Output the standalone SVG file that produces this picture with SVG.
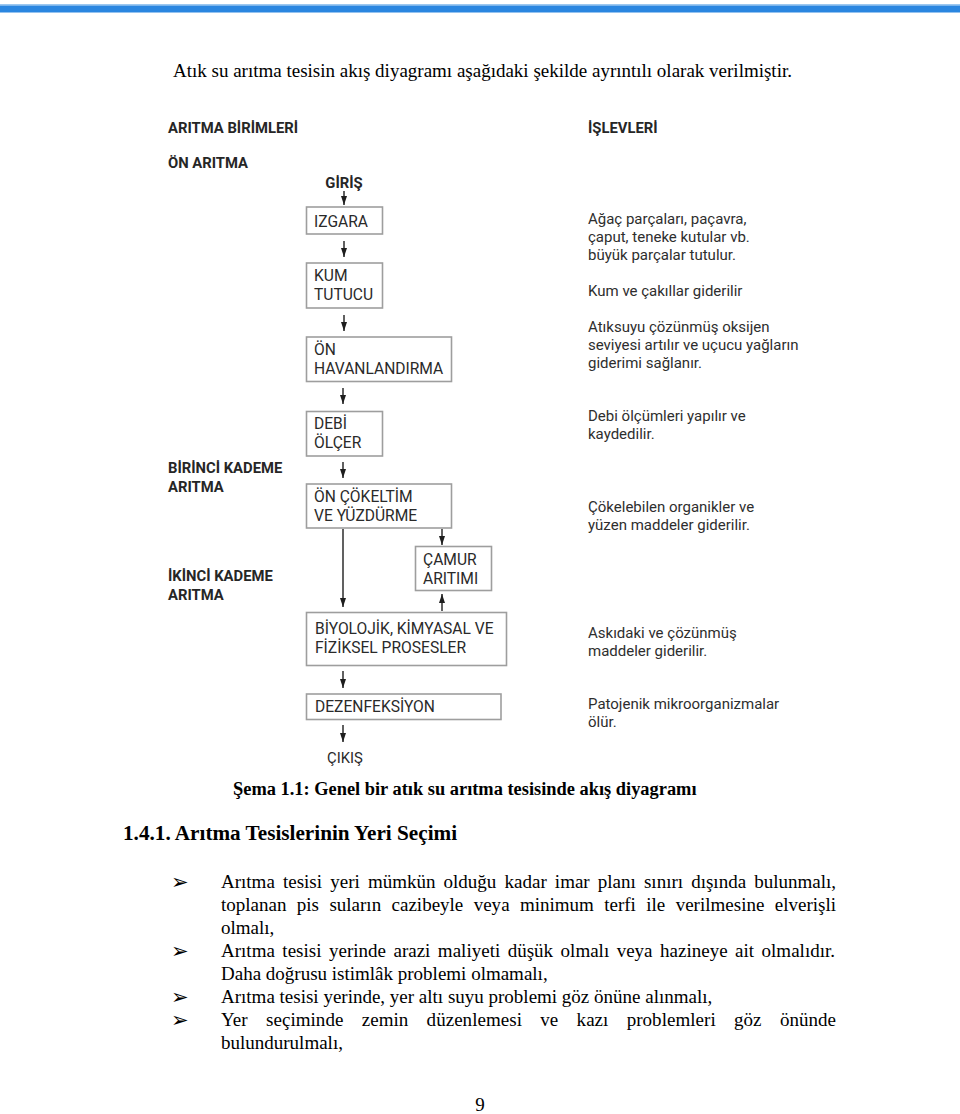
<svg xmlns="http://www.w3.org/2000/svg" width="960" height="1114" viewBox="0 0 960 1114">
<defs>
<style>
.page{font-family:"Liberation Serif","Times New Roman",serif;fill:#000}
.body{font-size:19px}
.hd{font-family:Roboto,"Liberation Sans",sans-serif;font-weight:bold;font-size:14.8px;fill:#262626}
.bx{fill:#fff;stroke:#9e9e9e;stroke-width:1.6}
.bt{font-family:Roboto,"Liberation Sans",sans-serif;font-size:15.6px;fill:#2a2a2a}
.fn{font-family:Roboto,"Liberation Sans",sans-serif;font-size:15px;fill:#2e2e2e}
.ar{stroke:#1e1e1e;stroke-width:1.4;fill:none;marker-end:url(#ah)}
.bul{font-family:"DejaVu Sans",sans-serif;font-size:21px;fill:#000}
</style>
<marker id="ah" viewBox="0 0 10 10" refX="10" refY="5" markerWidth="9" markerHeight="6" orient="auto" markerUnits="userSpaceOnUse" preserveAspectRatio="none">
<path d="M0,0 L10,5 L0,10 z" fill="#1e1e1e"/>
</marker>
</defs>
<rect x="0" y="0" width="960" height="1114" fill="#fff"/>
<rect x="0" y="4" width="960" height="1.5" fill="#9cc8f0"/>
<rect x="0" y="5.5" width="960" height="7" fill="#2a86e0"/>

<text class="page body" x="173" y="77">Atık su arıtma tesisin akış diyagramı aşağıdaki şekilde ayrıntılı olarak verilmiştir.</text>

<g id="headers">
<text class="hd" x="168" y="133">ARITMA BİRİMLERİ</text>
<text class="hd" x="168" y="168">ÖN ARITMA</text>
<text class="hd" x="588" y="133">İŞLEVLERİ</text>
<text class="hd" x="168" y="473">BİRİNCİ KADEME</text>
<text class="hd" x="168" y="492">ARITMA</text>
<text class="hd" x="168" y="581">İKİNCİ KADEME</text>
<text class="hd" x="168" y="600">ARITMA</text>
</g>

<g id="giris"><text class="hd" x="344" y="188" text-anchor="middle">GİRİŞ</text></g>
<g id="izgara"><rect class="bx" x="306.5" y="207" width="76" height="27"/><text class="bt" x="314" y="227">IZGARA</text></g>
<g id="kum"><rect class="bx" x="306.5" y="263" width="76" height="45"/><text class="bt" x="314" y="281">KUM</text><text class="bt" x="314" y="300">TUTUCU</text></g>
<g id="havalandirma"><rect class="bx" x="306.5" y="337" width="145" height="44.5"/><text class="bt" x="314" y="355">ÖN</text><text class="bt" x="314" y="374">HAVANLANDIRMA</text></g>
<g id="debi"><rect class="bx" x="306.5" y="411.5" width="76" height="44.5"/><text class="bt" x="314" y="429">DEBİ</text><text class="bt" x="314" y="448">ÖLÇER</text></g>
<g id="cokeltim"><rect class="bx" x="306.5" y="484" width="145" height="44"/><text class="bt" x="314" y="502">ÖN ÇÖKELTİM</text><text class="bt" x="314" y="521">VE YÜZDÜRME</text></g>
<g id="camur"><rect class="bx" x="415.5" y="546.5" width="76" height="44"/><text class="bt" x="423" y="565">ÇAMUR</text><text class="bt" x="423" y="584">ARITIMI</text></g>
<g id="biyolojik"><rect class="bx" x="306.5" y="612.5" width="200" height="53"/><text class="bt" x="315" y="634">BİYOLOJİK, KİMYASAL VE</text><text class="bt" x="315" y="653">FİZİKSEL PROSESLER</text></g>
<g id="dezenfeksiyon"><rect class="bx" x="306.5" y="694" width="194.5" height="25.5"/><text class="bt" x="315" y="712">DEZENFEKSİYON</text></g>
<g id="cikis"><text class="bt" x="327" y="763" style="font-size:14.8px">ÇIKIŞ</text></g>

<g id="connectors">
<line class="ar" x1="344" y1="191" x2="344" y2="205"/>
<line class="ar" x1="344" y1="241" x2="344" y2="257"/>
<line class="ar" x1="344" y1="315" x2="344" y2="331"/>
<line class="ar" x1="343" y1="388" x2="343" y2="404"/>
<line class="ar" x1="343" y1="462" x2="343" y2="478"/>
<line class="ar" x1="343" y1="529" x2="343" y2="607"/>
<line class="ar" x1="442" y1="529" x2="442" y2="545"/>
<line class="ar" x1="442" y1="611" x2="442" y2="594"/>
<line class="ar" x1="343" y1="671" x2="343" y2="688"/>
<line class="ar" x1="343" y1="725" x2="343" y2="742"/>
</g>

<g id="functions">
<text class="fn" x="588" y="224">Ağaç parçaları, paçavra,</text>
<text class="fn" x="588" y="242">çaput, teneke kutular vb.</text>
<text class="fn" x="588" y="260">büyük parçalar tutulur.</text>
<text class="fn" x="588" y="296">Kum ve çakıllar giderilir</text>
<text class="fn" x="588" y="332">Atıksuyu çözünmüş oksijen</text>
<text class="fn" x="588" y="350">seviyesi artılır ve uçucu yağların</text>
<text class="fn" x="588" y="368">giderimi sağlanır.</text>
<text class="fn" x="588" y="421">Debi ölçümleri yapılır ve</text>
<text class="fn" x="588" y="439">kaydedilir.</text>
<text class="fn" x="588" y="512">Çökelebilen organikler ve</text>
<text class="fn" x="588" y="530">yüzen maddeler giderilir.</text>
<text class="fn" x="588" y="638">Askıdaki ve çözünmüş</text>
<text class="fn" x="588" y="656">maddeler giderilir.</text>
<text class="fn" x="588" y="709">Patojenik mikroorganizmalar</text>
<text class="fn" x="588" y="727">ölür.</text>
</g>

<text class="page" x="233" y="795" style="font-weight:bold;font-size:18.4px">Şema 1.1: Genel bir atık su arıtma tesisinde akış diyagramı</text>
<text class="page" x="123" y="840" style="font-weight:bold;font-size:21.2px">1.4.1. Arıtma Tesislerinin Yeri Seçimi</text>

<g id="bullets">
<text class="bul" x="171" y="889">➢</text>
<text class="bul" x="171" y="958">➢</text>
<text class="bul" x="171" y="1004">➢</text>
<text class="bul" x="171" y="1027">➢</text>
</g>
<g class="page body">
<text x="221" y="888" word-spacing="3.4" textLength="615" lengthAdjust="spacing">Arıtma tesisi yeri mümkün olduğu kadar imar planı sınırı dışında bulunmalı,</text>
<text x="221" y="911" word-spacing="5.6" textLength="615" lengthAdjust="spacing">toplanan pis suların cazibeyle veya minimum terfi ile verilmesine elverişli</text>
<text x="221" y="934">olmalı,</text>
<text x="221" y="957" word-spacing="2.7" textLength="614" lengthAdjust="spacing">Arıtma tesisi yerinde arazi maliyeti düşük olmalı veya hazineye ait olmalıdır.</text>
<text x="221" y="980">Daha doğrusu istimlâk problemi olmamalı,</text>
<text x="221" y="1003">Arıtma tesisi yerinde, yer altı suyu problemi göz önüne alınmalı,</text>
<text x="221" y="1026" word-spacing="13.5" textLength="615" lengthAdjust="spacing">Yer seçiminde zemin düzenlemesi ve kazı problemleri göz önünde</text>
<text x="221" y="1049">bulundurulmalı,</text>
</g>
<text class="page" x="480" y="1111" text-anchor="middle" style="font-size:19px">9</text>
</svg>
